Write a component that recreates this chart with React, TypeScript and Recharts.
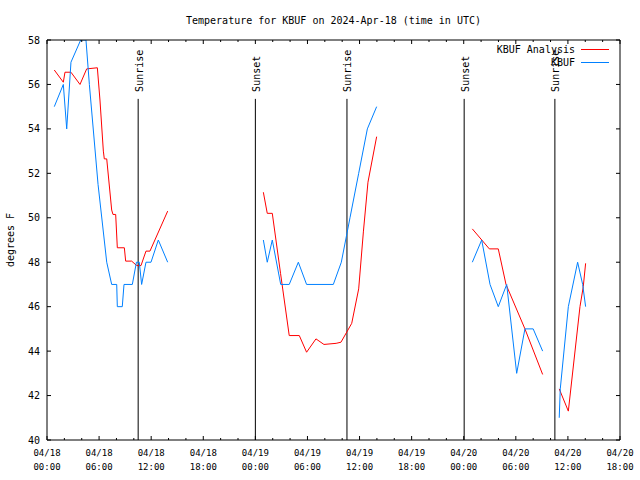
import React from "react";
import { LineChart, Line, XAxis, YAxis, ReferenceLine, Legend } from "recharts";

const TITLE = "Temperature for KBUF on 2024-Apr-18 (time in UTC)";
const Y_LABEL = "degrees F";
const FONT = "'DejaVu Sans Mono', 'Liberation Mono', monospace";

const SERIES_NAMES = ["KBUF Analysis", "KBUF"];

// hours since 2024-04-18 00:00 UTC (null = gap in record)
const analysisHours = [
  0.84, 1.88, 2.07, 2.76, 3.8, 4.57, 5.8, 6.1, 6.49, 6.6, 6.88, 7.45, 7.6, 7.91, 8.1, 8.91, 9.06, 9.75, 10.33, 10.83, 11.4, 11.86, 13.9,
  19,
  24.92, 25.37, 25.95, 26.9, 27.9, 29.06, 29.9, 30.98, 31.9, 33.3, 33.86, 34.59, 35.1, 35.9, 36.45, 36.97, 37.97,
  43,
  48.99, 50.95, 51.98, 52.87, 55.05, 57.09,
  58,
  59.0, 60.05, 61.39, 61.77, 62.04,
];
const analysisTemps: (number | null)[] = [
  56.65, 56.1, 56.55, 56.55, 56.0, 56.7, 56.75, 55.3, 53.0, 52.65, 52.65, 50.35, 50.15, 50.15, 48.65, 48.65, 48.05, 48.05, 47.85, 47.85, 48.5, 48.5, 50.3,
  null,
  51.15, 50.2, 50.2, 47.5, 44.7, 44.7, 43.95, 44.55, 44.3, 44.35, 44.4, 44.9, 45.25, 46.8, 49.4, 51.6, 53.65,
  null,
  49.5, 48.6, 48.6, 47.0, 45.0, 42.95,
  null,
  42.3, 41.3, 46.0, 46.9, 47.95,
];

const obsHours = [
  0.84, 1.88, 2.27, 2.76, 3.88, 4.49, 4.88, 5.88, 6.88, 7.45, 8.03, 8.1, 8.67, 8.87, 9.83, 10.3, 10.63, 10.9, 11.4, 11.98, 12.82, 13.9,
  19,
  24.92, 25.37, 25.95, 26.92, 27.9, 28.95, 29.9, 32.98, 33.9, 34.9, 35.9, 36.9, 37.97,
  43,
  48.99, 50.07, 51.03, 51.98, 52.95, 54.1, 55.05, 56.0, 57.09,
  58,
  59.0, 59.12, 60.05, 61.12, 61.7, 62.04,
];
const obsTemps: (number | null)[] = [
  55, 56, 54, 57, 58, 58, 56, 51.5, 48, 47, 47, 46, 46, 47, 47, 48, 48, 47, 48, 48, 49, 48,
  null,
  49, 48, 49, 47, 47, 48, 47, 47, 48, 50, 52, 54, 55,
  null,
  48, 49, 47, 46, 47, 43, 45, 45, 44,
  null,
  41, 42.3, 46, 48, 47, 46,
];

const sunEventHours = [10.5, 24.0, 34.55, 48.05, 58.5];
const sunEventLabels = ["Sunrise", "Sunset", "Sunrise", "Sunset", "Sunrise"];
const SUN_LINE_TOP = 55.35;

const xMajorTicks = [0, 6, 12, 18, 24, 30, 36, 42, 48, 54, 60, 66];
const xTickDates = ["04/18", "04/18", "04/18", "04/18", "04/19", "04/19", "04/19", "04/19", "04/20", "04/20", "04/20", "04/20"];
const xTickTimes = ["00:00", "06:00", "12:00", "18:00", "00:00", "06:00", "12:00", "18:00", "00:00", "06:00", "12:00", "18:00"];
const xAllTicks = Array.from({ length: 34 }, (_, i) => i * 2);
const yTicks = [40, 42, 44, 46, 48, 50, 52, 54, 56, 58];

const analysisData = analysisHours.map((h, i) => ({ h, t: analysisTemps[i] }));
const obsData = obsHours.map((h, i) => ({ h, t: obsTemps[i] }));

const BottomTick = (props: any) => {
  const { x, y, payload } = props;
  const idx = xMajorTicks.indexOf(payload.value);
  const major = idx >= 0;
  return (
    <g>
      <line x1={x} x2={x} y1={y} y2={y - (major ? 4 : 2)} stroke="#000" />
      {major && (
        <>
          <text x={x} y={y + 16} textAnchor="middle" fontSize={9} fontFamily={FONT} fill="#000">
            {xTickDates[idx]}
          </text>
          <text x={x} y={y + 30} textAnchor="middle" fontSize={9} fontFamily={FONT} fill="#000">
            {xTickTimes[idx]}
          </text>
        </>
      )}
    </g>
  );
};

const TopTick = (props: any) => {
  const { x, y, payload } = props;
  const major = xMajorTicks.indexOf(payload.value) >= 0;
  return <line x1={x} x2={x} y1={y} y2={y + (major ? 4 : 2)} stroke="#000" />;
};

const LeftTick = (props: any) => {
  const { x, y, payload } = props;
  return (
    <g>
      <line x1={x} x2={x + 4} y1={y} y2={y} stroke="#000" />
      <text x={x - 7} y={y + 3.5} textAnchor="end" fontSize={10} fontFamily={FONT} fill="#000">
        {payload.value}
      </text>
    </g>
  );
};

const RightTick = (props: any) => {
  const { x, y } = props;
  return <line x1={x} x2={x - 4} y1={y} y2={y} stroke="#000" />;
};

const makeSunLabel = (text: string) => (p: any) => {
  const vb = p.viewBox || {};
  const x = vb.x + 1;
  const y = vb.y - 7;
  return (
    <text
      x={x}
      y={y}
      transform={`rotate(-90, ${x}, ${y})`}
      textAnchor="start"
      dominantBaseline="central"
      fontSize={10}
      fontFamily={FONT}
      fill="#000"
    >
      {text}
    </text>
  );
};

const YLabel = (p: any) => {
  const vb = p.viewBox || {};
  const x = vb.x + 10;
  const y = vb.y + vb.height / 2;
  return (
    <text x={x} y={y} transform={`rotate(-90, ${x}, ${y})`} textAnchor="middle" dominantBaseline="central" fontSize={10} fontFamily={FONT} fill="#000">
      {Y_LABEL}
    </text>
  );
};

const TitleLabel = (p: any) => {
  const vb = p.viewBox || {};
  return (
    <text x={vb.x + vb.width / 2} y={vb.y + vb.height - 20} textAnchor="middle" dominantBaseline="central" fontSize={10} fontFamily={FONT} fill="#000">
      {TITLE}
    </text>
  );
};

const renderLegend = (props: any) => {
  const items = [...(props.payload || [])].sort(
    (a: any, b: any) => SERIES_NAMES.indexOf(a.value) - SERIES_NAMES.indexOf(b.value)
  );
  return (
    <div style={{ fontFamily: FONT, fontSize: 10, color: "#000" }}>
      {items.map((it: any, i: number) => (
        <div key={i} style={{ display: "flex", justifyContent: "flex-end", alignItems: "center", height: 13 }}>
          <span style={{ lineHeight: "13px" }}>{it.value}</span>
          <span style={{ display: "inline-block", width: 28, height: 1, background: it.color, marginLeft: 6 }} />
        </div>
      ))}
    </div>
  );
};

export default function App() {
  return (
    <div style={{ position: "absolute", left: 0, top: 0, width: 640, height: 480, background: "#fff" }}>
      <LineChart width={640} height={480} margin={{ top: 39, right: 19, bottom: 0, left: 0 }}>
        <XAxis
          dataKey="h"
          type="number"
          domain={[0, 66]}
          allowDataOverflow
          ticks={xAllTicks}
          interval={0}
          tick={<BottomTick />}
          tickLine={false}
          tickSize={0}
          tickMargin={0}
          height={40}
          axisLine={{ stroke: "#000" }}
        />
        <XAxis
          xAxisId="top"
          orientation="top"
          dataKey="h"
          type="number"
          domain={[0, 66]}
          allowDataOverflow
          ticks={xAllTicks}
          interval={0}
          tick={<TopTick />}
          tickLine={false}
          tickSize={0}
          tickMargin={0}
          height={1}
          axisLine={{ stroke: "#000" }}
          label={{ content: TitleLabel }}
        />
        <YAxis
          type="number"
          domain={[40, 58]}
          allowDataOverflow
          ticks={yTicks}
          interval={0}
          tick={<LeftTick />}
          tickLine={false}
          tickSize={0}
          tickMargin={0}
          width={47}
          axisLine={{ stroke: "#000" }}
          label={{ content: YLabel }}
        />
        <YAxis
          yAxisId="r"
          orientation="right"
          type="number"
          domain={[40, 58]}
          allowDataOverflow
          ticks={yTicks}
          interval={0}
          tick={<RightTick />}
          tickLine={false}
          tickSize={0}
          tickMargin={0}
          width={1}
          axisLine={{ stroke: "#000" }}
        />
        {sunEventHours.map((h, i) => (
          <ReferenceLine
            key={i}
            segment={[
              { x: h, y: 40 },
              { x: h, y: SUN_LINE_TOP },
            ]}
            stroke="#000"
            strokeWidth={1}
            label={makeSunLabel(sunEventLabels[i])}
          />
        ))}
        <Line
          data={analysisData}
          dataKey="t"
          name="KBUF Analysis"
          stroke="#ff0000"
          strokeWidth={1}
          dot={false}
          activeDot={false}
          isAnimationActive={false}
          legendType="line"
        />
        <Line
          data={obsData}
          dataKey="t"
          name="KBUF"
          stroke="#0080ff"
          strokeWidth={1}
          dot={false}
          activeDot={false}
          isAnimationActive={false}
          legendType="line"
        />
        <Legend
          layout="vertical"
          align="center"
          verticalAlign="middle"
          wrapperStyle={{ top: 43, left: 440, width: 169, right: "auto", bottom: "auto" }}
          content={renderLegend}
        />
      </LineChart>
    </div>
  );
}
